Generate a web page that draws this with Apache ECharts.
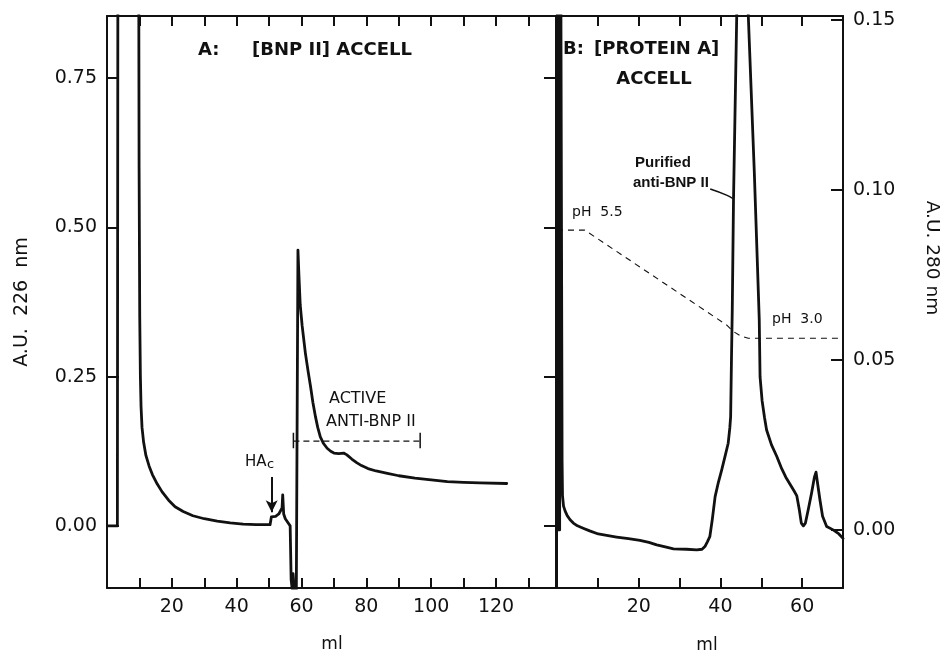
<!DOCTYPE html>
<html>
<head>
<meta charset="utf-8">
<script src="https://cdn.jsdelivr.net/npm/echarts@6/dist/echarts.min.js"></script>
<style>
html,body{margin:0;padding:0;background:#fff;}
#c{width:941px;height:654px;}
</style>
</head>
<body>
<div id="c"></div>
<script>
// ---------- DATA ----------
// Panel A: [BNP II] ACCELL, absorbance at 226 nm vs ml
var curveA_ml = [0.5, 3.2, 3.4, 9.7, 9.9, 10.1, 10.3, 10.5, 10.8, 11.3, 12, 13, 14, 15.5, 17, 19, 21, 23.5, 26.5, 30, 34, 38, 42, 46, 50.3,
  50.7, 52.0, 53.0, 53.6, 54.0, 54.2, 54.5, 55, 56, 56.5, 56.8, 57.1, 57.4, 57.7, 58.1, 58.4, 58.9, 59.2, 59.6, 60.2, 61.2, 62, 62.8,
  63.5, 64.3, 65, 65.8, 66.8, 67.9, 69, 70, 71.5, 73, 74, 75.5, 77, 78.5, 80.5, 83, 86.5, 90, 95, 100, 105, 110, 115, 123.3];
var curveA_au = [0.0, 0.0, 1.2, 1.2, 0.6, 0.35, 0.25, 0.2, 0.165, 0.14, 0.118, 0.1, 0.086, 0.07, 0.057, 0.043, 0.032, 0.024, 0.017, 0.012, 0.008, 0.005, 0.003, 0.002, 0.002,
  0.015, 0.016, 0.02, 0.022, 0.03, 0.052, 0.02, 0.012, 0.004, 0.0, -0.09, -0.105, -0.08, -0.105, -0.095, -0.11, 0.462, 0.42, 0.37, 0.335, 0.289, 0.26, 0.233,
  0.207, 0.183, 0.165, 0.149, 0.138, 0.13, 0.125, 0.122, 0.121, 0.122, 0.119, 0.112, 0.106, 0.101, 0.096, 0.092, 0.088, 0.084, 0.08, 0.077, 0.074, 0.073, 0.072, 0.071];

// Panel B: [PROTEIN A] ACCELL, absorbance at 280 nm vs ml
var curveB_ml = [0.0, 0.1, 0.3, 0.35, 0.45, 0.6, 0.65, 0.75, 1.2, 1.25, 1.35, 1.6, 2.0, 2.5, 3.2, 4, 5, 6.4, 8, 10.1, 12.5, 14.6, 17.5, 20.3, 22.5, 24.4, 26.5, 28.5,
  31.7, 34.2, 35.5, 36.2, 36.8, 37.4, 38, 38.7, 39.5, 40.3, 41.2, 41.9, 42.3, 42.5, 42.7, 42.9, 43.2, 44.0, 45.4, 46.8, 47.5, 48.3, 49.0, 49.5,
  49.7, 50.2, 50.8, 51.3, 52.5, 53.8, 55, 56, 57, 58, 58.7, 59.3, 59.8, 60.3, 60.8, 61.5, 62.3, 63, 63.4, 63.8, 64.4, 65, 66, 67.6, 69, 70];
var curveB_au = [0.0, 0.25, 0.25, 0.0, 0.25, 0.25, 0.0, 0.25, 0.25, 0.02, 0.01, 0.007, 0.0055, 0.0042, 0.003, 0.002, 0.0012, 0.0005, -0.0003, -0.0012, -0.0017, -0.0021, -0.0026, -0.0031, -0.0037, -0.0044, -0.005, -0.0056,
  -0.0057, -0.0059, -0.0057, -0.0049, -0.0035, -0.002, 0.003, 0.0098, 0.014, 0.0176, 0.022, 0.0255, 0.03, 0.0333, 0.05, 0.065, 0.097, 0.152, 0.2, 0.152, 0.13, 0.105, 0.08, 0.062,
  0.045, 0.038, 0.033, 0.0294, 0.025, 0.0216, 0.018, 0.0155, 0.0135, 0.0115, 0.01, 0.006, 0.002, 0.0012, 0.002, 0.006, 0.0108, 0.0155, 0.017, 0.0135, 0.0085, 0.004, 0.001, 0.0, -0.0012, -0.0025];

// pH gradient (dashed) drawn in panel B
var phLine_ml = [0, 6.8, 41.5, 43, 45, 46.8, 70];
var phLine_au = [0.0882, 0.0882, 0.0603, 0.0585, 0.057, 0.0564, 0.0564];

// "ACTIVE ANTI-BNP II" bracket in panel A
var bracket_ml = [57.5, 96.6];
var bracket_au = 0.142;
var bracketCap_au = [0.130, 0.156];

// HAc arrow in panel A
var hacArrow_ml = 50.8;
var hacArrow_au = [0.082, 0.023];

// Purified leader line in panel B
var leader_ml = [37.5, 41.5, 43.0];
var leader_au = [0.1003, 0.0985, 0.0975];

// Ticks
var xTicksA = [10, 20, 30, 40, 50, 60, 70, 80, 90, 100, 110, 120, 130];
var xLabelsA = [20, 40, 60, 80, 100, 120];
var xTicksB = [10, 20, 30, 40, 50, 60];
var xLabelsB = [20, 40, 60];
var yTicksA = [0, 0.25, 0.5, 0.75];
var yTicksB = [0, 0.05, 0.10, 0.15];

// ---------- CHART ----------
function zip(xs, ys) { return xs.map(function (x, i) { return [x, ys[i]]; }); }

var black = '#111';
var tickFont = 'DejaVu Sans';

function xAxisCfg(grid, pos, min, max, ticks, labels) {
  return {
    type: 'value', gridIndex: grid, position: pos, min: min, max: max,
    axisLine: { show: true, onZero: false, lineStyle: { color: black, width: 2 } },
    axisTick: { show: true, inside: true, length: 10, lineStyle: { color: black, width: 2 }, customValues: ticks },
    axisLabel: labels ? { show: true, customValues: labels, margin: 10, color: black, fontSize: 19, fontFamily: tickFont } : { show: false },
    splitLine: { show: false }
  };
}
function yAxisCfg(grid, pos, min, max, ticks, showLabels, showTicks) {
  return {
    type: 'value', gridIndex: grid, position: pos, min: min, max: max,
    axisLine: { show: true, onZero: false, lineStyle: { color: black, width: 2 } },
    axisTick: { show: showTicks, inside: true, length: 12, lineStyle: { color: black, width: 2 }, customValues: ticks },
    axisLabel: showLabels ? { show: true, customValues: ticks, margin: 10, color: black, fontSize: 19, fontFamily: tickFont,
      formatter: function (v) { return Number(v).toFixed(2); } } : { show: false },
    splitLine: { show: false }
  };
}

var chart = echarts.init(document.getElementById('c'), null, { renderer: 'canvas' });

var lineBase = { type: 'line', showSymbol: false, symbol: 'none', clip: true, animation: false, silent: true };

var option = {
  backgroundColor: '#fff',
  animation: false,
  grid: [
    { left: 107, top: 16, width: 449, height: 572 },
    { left: 557, top: 16, width: 286, height: 572 }
  ],
  xAxis: [
    xAxisCfg(0, 'bottom', 0, 138.5, xTicksA, xLabelsA),
    xAxisCfg(0, 'top', 0, 138.5, xTicksA, null),
    xAxisCfg(1, 'bottom', 0, 70, xTicksB, xLabelsB),
    xAxisCfg(1, 'top', 0, 70, xTicksB, null)
  ],
  yAxis: [
    yAxisCfg(0, 'left', -0.104, 0.854, yTicksA, true, true),
    yAxisCfg(0, 'right', -0.104, 0.854, yTicksA, false, true),
    yAxisCfg(1, 'left', -0.0171, 0.1512, yTicksB, false, false),
    yAxisCfg(1, 'right', -0.0171, 0.1512, yTicksB, true, true)
  ],
  series: [
    Object.assign({}, lineBase, { xAxisIndex: 0, yAxisIndex: 0, data: zip(curveA_ml, curveA_au),
      lineStyle: { color: black, width: 2.8, join: 'round', cap: 'round' } }),
    Object.assign({}, lineBase, { xAxisIndex: 0, yAxisIndex: 0, data: zip(bracket_ml, [bracket_au, bracket_au]),
      lineStyle: { color: black, width: 1.2, type: [6, 4] } }),
    Object.assign({}, lineBase, { xAxisIndex: 0, yAxisIndex: 0, data: zip([bracket_ml[0], bracket_ml[0]], bracketCap_au),
      lineStyle: { color: black, width: 1.5 } }),
    Object.assign({}, lineBase, { xAxisIndex: 0, yAxisIndex: 0, data: zip([bracket_ml[1], bracket_ml[1]], bracketCap_au),
      lineStyle: { color: black, width: 1.5 } }),
    Object.assign({}, lineBase, { xAxisIndex: 0, yAxisIndex: 0, data: [],
      markLine: { silent: true, symbol: ['none', 'arrow'], symbolSize: [9, 12], label: { show: false },
        lineStyle: { color: black, width: 2, type: 'solid' },
        data: [[{ coord: [hacArrow_ml, hacArrow_au[0]] }, { coord: [hacArrow_ml, hacArrow_au[1]] }]] } }),
    Object.assign({}, lineBase, { xAxisIndex: 2, yAxisIndex: 3, data: zip(curveB_ml, curveB_au),
      lineStyle: { color: black, width: 2.8, join: 'round', cap: 'round' } }),
    Object.assign({}, lineBase, { xAxisIndex: 2, yAxisIndex: 3, data: zip(phLine_ml, phLine_au),
      lineStyle: { color: black, width: 1.1, type: [6, 5] } }),
    Object.assign({}, lineBase, { xAxisIndex: 2, yAxisIndex: 3, data: zip(leader_ml, leader_au), smooth: true,
      lineStyle: { color: black, width: 1.5 } })
  ],
  graphic: [
    { type: 'text', x: 198, y: 50, style: { text: 'A:', font: 'bold 18px "DejaVu Sans"', fill: black, align: 'left', verticalAlign: 'middle' } },
    { type: 'text', x: 252, y: 50, style: { text: '[BNP II] ACCELL', font: 'bold 18px "DejaVu Sans"', fill: black, align: 'left', verticalAlign: 'middle' } },
    { type: 'text', x: 563, y: 49, style: { text: 'B:', font: 'bold 18px "DejaVu Sans"', fill: black, align: 'left', verticalAlign: 'middle' } },
    { type: 'text', x: 594, y: 49, style: { text: '[PROTEIN A]', font: 'bold 18px "DejaVu Sans"', fill: black, align: 'left', verticalAlign: 'middle' } },
    { type: 'text', x: 654, y: 79, style: { text: 'ACCELL', font: 'bold 18px "DejaVu Sans"', fill: black, align: 'center', verticalAlign: 'middle' } },
    { type: 'text', x: 329, y: 399, style: { text: 'ACTIVE', font: '16px "DejaVu Sans"', fill: black, align: 'left', verticalAlign: 'middle' } },
    { type: 'text', x: 326, y: 422, style: { text: 'ANTI-BNP II', font: '16px "DejaVu Sans"', fill: black, align: 'left', verticalAlign: 'middle' } },
    { type: 'text', x: 245, y: 462, style: { text: 'HA', font: '15px "DejaVu Sans"', fill: black, align: 'left', verticalAlign: 'middle' } },
    { type: 'text', x: 267, y: 465, style: { text: 'c', font: '13px "DejaVu Sans"', fill: black, align: 'left', verticalAlign: 'middle' } },
    { type: 'text', x: 635, y: 163, style: { text: 'Purified', font: 'bold 15px "Liberation Sans"', fill: black, align: 'left', verticalAlign: 'middle' } },
    { type: 'text', x: 633, y: 183, style: { text: 'anti-BNP II', font: 'bold 15px "Liberation Sans"', fill: black, align: 'left', verticalAlign: 'middle' } },
    { type: 'text', x: 572, y: 212, style: { text: 'pH  5.5', font: '14px "DejaVu Sans"', fill: black, align: 'left', verticalAlign: 'middle' } },
    { type: 'text', x: 772, y: 319, style: { text: 'pH  3.0', font: '14px "DejaVu Sans"', fill: black, align: 'left', verticalAlign: 'middle' } },
    { type: 'text', x: 332, y: 645, style: { text: 'ml', font: '17px "DejaVu Sans"', fill: black, align: 'center', verticalAlign: 'middle' } },
    { type: 'text', x: 707, y: 646, style: { text: 'ml', font: '17px "DejaVu Sans"', fill: black, align: 'center', verticalAlign: 'middle' } },
    { type: 'text', x: 22, y: 302, rotation: Math.PI / 2, style: { text: 'A.U.  226  nm', font: '19px "DejaVu Sans"', fill: black, align: 'center', verticalAlign: 'middle' } },
    { type: 'text', x: 932, y: 258, rotation: -Math.PI / 2, style: { text: 'A.U. 280 nm', font: '18.5px "DejaVu Sans"', fill: black, align: 'center', verticalAlign: 'middle' } }
  ]
};
chart.setOption(option);
</script>
</body>
</html>
